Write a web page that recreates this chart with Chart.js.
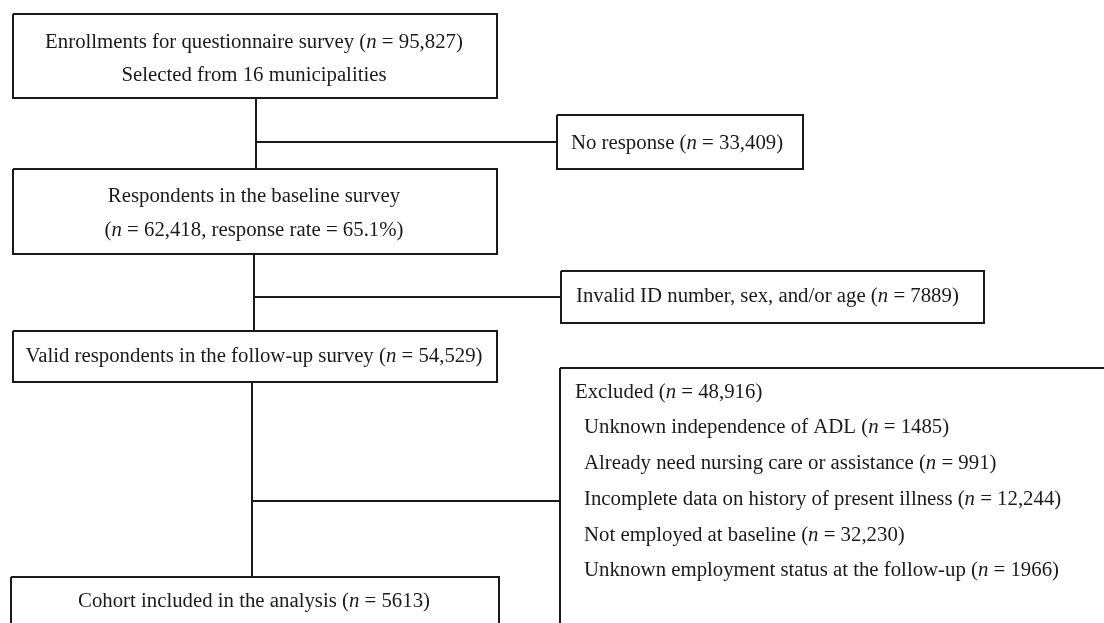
<!DOCTYPE html>
<html>
<head>
<meta charset="utf-8">
<script src="https://cdn.jsdelivr.net/npm/chart.js@4.4.1/dist/chart.umd.min.js"></script>
<style>
    html, body { margin: 0; background: #fff; }
    #wrap { width: 1104px; height: 623px; }
</style>
</head>
<body>
<div id="wrap"><canvas id="flowChart"></canvas></div>
<script>
// flow steps (main column)
const stepNames = ['Enrollments for questionnaire survey', 'Respondents in the baseline survey', 'Valid respondents in the follow-up survey', 'Cohort included in the analysis'];
const stepCounts = ['95,827', '62,418', '54,529', '5613'];
const municipalities = 16;
const responseRate = '65.1%';

// drop-outs (side column)
const dropNames = ['No response', 'Invalid ID number, sex, and/or age', 'Excluded'];
const dropCounts = ['33,409', '7889', '48,916'];

// reasons inside the "Excluded" box
const excludedReasons = ['Unknown independence of ADL', 'Already need nursing care or assistance', 'Incomplete data on history of present illness', 'Not employed at baseline', 'Unknown employment status at the follow-up'];
const excludedCounts = ['1485', '991', '12,244', '32,230', '1966'];

// layout, in canvas units (x0, x1, y0, y1)
const mainBoxes = [[13, 497, 14, 98], [13, 497, 169, 254], [13, 497, 331, 382], [11, 499, 577, 650]];
const sideBoxes = [[557, 803, 115, 169], [561, 984, 271, 323], [560, 1120, 368, 650]];
const spineX = [256, 254, 252];
const branchY = [142, 297, 501];

const INK = '#1a1a1a';
const FONT = '"Liberation Serif", "DejaVu Serif", serif';
const SIZE = 20.8;

function nLine(prefix, count, extra) {
    const segs = [{ t: prefix + ' (' }, { t: 'n', i: true }, { t: ' = ' + count }];
    if (extra) segs.push({ t: extra });
    segs.push({ t: ')' });
    return segs;
}

// text lines: [segments, x, y, align]
const texts = [
    [nLine(stepNames[0], stepCounts[0]), 254, 43, 'center'],
    [[{ t: 'Selected from ' + municipalities + ' municipalities' }], 254, 76, 'center'],
    [[{ t: stepNames[1] }], 254, 197, 'center'],
    [[{ t: '(' }, { t: 'n', i: true }, { t: ' = ' + stepCounts[1] + ', response rate = ' + responseRate + ')' }], 254, 231, 'center'],
    [nLine(stepNames[2], stepCounts[2]), 254, 357, 'center'],
    [nLine(stepNames[3], stepCounts[3]), 254, 602, 'center'],
    [nLine(dropNames[0], dropCounts[0]), 571, 144, 'left'],
    [nLine(dropNames[1], dropCounts[1]), 576, 297, 'left'],
    [nLine(dropNames[2], dropCounts[2]), 575, 393, 'left']
];
excludedReasons.forEach((r, k) => {
    texts.push([nLine(r, excludedCounts[k]), 584, 428 + k * 35.7, 'left']);
});

function rect(b) {
    return [{ x: b[0], y: b[2] }, { x: b[1], y: b[2] }, { x: b[1], y: b[3] }, { x: b[0], y: b[3] }, { x: b[0], y: b[2] }];
}

const lineSets = [];
mainBoxes.forEach(b => lineSets.push(rect(b)));
sideBoxes.forEach(b => lineSets.push(rect(b)));
spineX.forEach((x, k) => {
    lineSets.push([{ x: x, y: mainBoxes[k][3] }, { x: x, y: mainBoxes[k + 1][2] }]);
    lineSets.push([{ x: x, y: branchY[k] }, { x: sideBoxes[k][0], y: branchY[k] }]);
});

const textPlugin = {
    id: 'flowText',
    afterDatasetsDraw(chart) {
        const ctx = chart.ctx;
        const sx = chart.scales.x, sy = chart.scales.y;
        ctx.save();
        ctx.fillStyle = INK;
        ctx.textBaseline = 'middle';
        ctx.textAlign = 'left';
        texts.forEach(([segs, x, y, align]) => {
            let w = 0;
            segs.forEach(s => {
                ctx.font = (s.i ? 'italic ' : '') + SIZE + 'px ' + FONT;
                s.w = ctx.measureText(s.t).width;
                w += s.w;
            });
            let px = sx.getPixelForValue(x);
            if (align === 'center') px -= w / 2;
            const py = sy.getPixelForValue(y);
            segs.forEach(s => {
                ctx.font = (s.i ? 'italic ' : '') + SIZE + 'px ' + FONT;
                ctx.fillText(s.t, px, py);
                px += s.w;
            });
        });
        ctx.restore();
    }
};

new Chart(document.getElementById('flowChart'), {
    type: 'scatter',
    data: {
        datasets: lineSets.map(pts => ({
            data: pts,
            showLine: true,
            borderColor: INK,
            borderWidth: 2,
            pointRadius: 0,
            tension: 0,
            clip: false
        }))
    },
    options: {
        responsive: true,
        maintainAspectRatio: false,
        animation: false,
        events: [],
        layout: { padding: 0 },
        plugins: {
            legend: { display: false },
            tooltip: { enabled: false }
        },
        scales: {
            x: { type: 'linear', min: 0, max: 1104, display: false },
            y: { type: 'linear', min: 0, max: 623, reverse: true, display: false }
        }
    },
    plugins: [textPlugin]
});
</script>
</body>
</html>
